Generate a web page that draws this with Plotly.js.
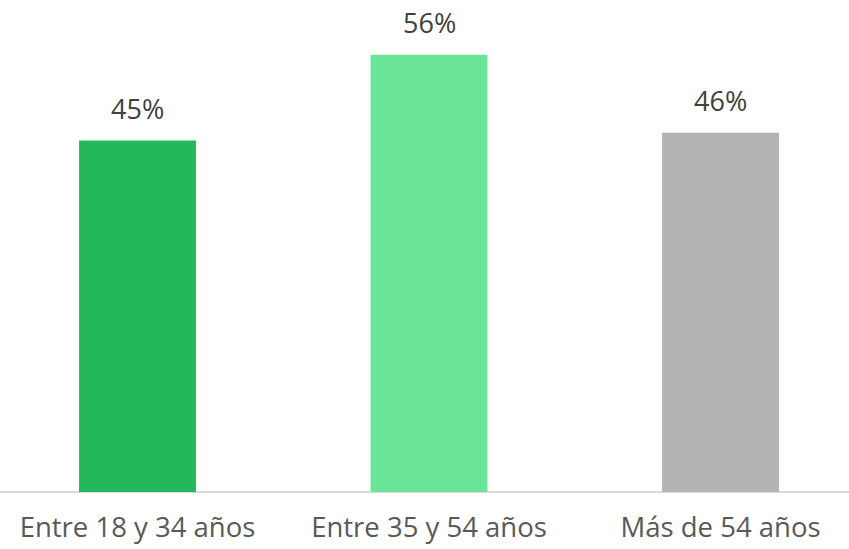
<!DOCTYPE html>
<html>
<head>
<meta charset="utf-8">
<script src="https://cdn.plot.ly/plotly-3.0.1.min.js"></script>
<style>html,body{margin:0;padding:0;background:#fff;}#chart{width:849px;height:549px;}</style>
</head>
<body>
<div id="chart"></div>
<script>
const categories = ["Entre 18 y 34 años", "Entre 35 y 54 años", "Más de 54 años"];
const values = [45, 56, 46];
const valueLabels = ["45%", "56%", "46%"];
const colors = ["#23b85a", "#6be698", "#b3b4b3"];

const trace = {
  type: "bar",
  x: categories,
  y: values,
  width: 0.401,
  marker: {color: colors},
  hoverinfo: "none"
};

const annotations = categories.map((c, i) => ({
  x: c, y: values[i], xref: "x", yref: "y",
  text: valueLabels[i], showarrow: false,
  yanchor: "bottom", yshift: 12,
  font: {family: "Open Sans, sans-serif", size: 27, color: "#404040"}
}));

const layout = {
  width: 849, height: 549,
  margin: {l: 0, r: 0, t: 0, b: 57, pad: 0},
  paper_bgcolor: "#fff", plot_bgcolor: "#fff",
  showlegend: false,
  xaxis: {
    range: [-0.4717, 2.4408],
    showgrid: false, zeroline: false,
    showline: false,
    ticks: "", ticklen: 0,
    ticklabelstandoff: 16,
    automargin: false,
    tickfont: {family: "Open Sans, sans-serif", size: 27.5, color: "#595959"}
  },
  yaxis: {
    range: [0, 63.0],
    showgrid: false, zeroline: true, zerolinecolor: "#d9d9d9", zerolinewidth: 2,
    showticklabels: false, showline: false, ticks: ""
  },
  annotations: annotations
};

Plotly.newPlot("chart", [trace], layout, {displayModeBar: false, staticPlot: true});
</script>
</body>
</html>
